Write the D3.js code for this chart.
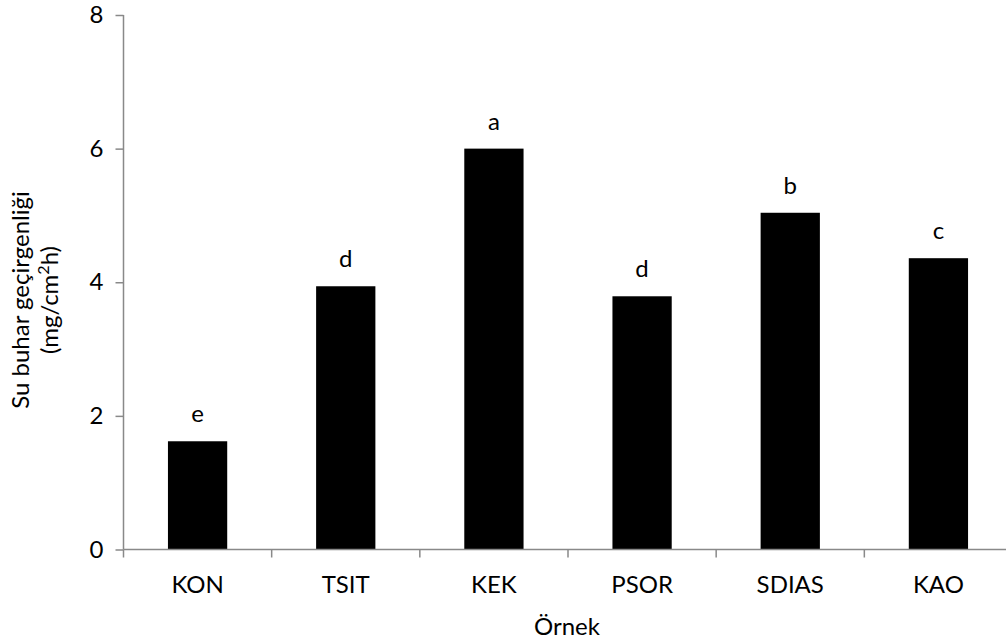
<!DOCTYPE html>
<html>
<head>
<meta charset="utf-8">
<script src="https://cdn.jsdelivr.net/npm/d3@7/dist/d3.min.js"></script>
<style>
  html, body { margin: 0; padding: 0; background: #fff; }
  svg { display: block; }
  text { font-family: Lato, "Open Sans", sans-serif; fill: #000; }
</style>
</head>
<body>
<svg id="chart" width="1006" height="644"></svg>
<script>
// Water vapour permeability per sample, with significance letters
const categories = ["KON", "TSIT", "KEK", "PSOR", "SDIAS", "KAO"];
const values = [1.62, 3.94, 6.0, 3.79, 5.04, 4.36];
const letters = ["e", "d", "a", "d", "b", "c"];
const yTicks = [0, 2, 4, 6, 8];

const svg = d3.select("#chart");
const plotLeft = 123.5, plotRight = 1012.5, plotTop = 15, plotBottom = 549.5;
const axisColor = "#898989";
const fontSize = 24;

const x = d3.scaleBand()
  .domain(categories)
  .range([plotLeft, plotRight])
  .paddingInner(0.6)
  .paddingOuter(0.3);

const y = d3.scaleLinear().domain([0, 8]).range([plotBottom, plotTop]);

// Bars
svg.append("g").selectAll("rect")
  .data(categories)
  .join("rect")
  .attr("x", d => x(d))
  .attr("width", x.bandwidth())
  .attr("y", (d, i) => y(values[i]))
  .attr("height", (d, i) => y(0) - y(values[i]))
  .attr("fill", "#000");

// Significance letters above bars
svg.append("g").selectAll("text")
  .data(categories)
  .join("text")
  .attr("x", d => x(d) + x.bandwidth() / 2)
  .attr("y", (d, i) => y(values[i]) - 19)
  .attr("text-anchor", "middle")
  .attr("font-size", fontSize)
  .text((d, i) => letters[i]);

// Y axis
const yAxis = svg.append("g").attr("transform", `translate(${plotLeft},0)`)
  .call(d3.axisLeft(y).tickValues(yTicks).tickSize(8).tickPadding(12).tickFormat(d3.format("d")));
yAxis.select(".domain").attr("stroke", axisColor).attr("stroke-width", 1.5)
  .attr("d", `M0,${plotTop}V${plotBottom}`);
yAxis.selectAll(".tick line").attr("stroke", axisColor).attr("stroke-width", 1.5);
yAxis.selectAll(".tick text").attr("font-size", fontSize).attr("font-family", "Lato, sans-serif").attr("fill", "#000");

// X axis line with ticks at category boundaries
const xg = svg.append("g");
xg.append("line")
  .attr("x1", plotLeft).attr("x2", plotRight)
  .attr("y1", plotBottom).attr("y2", plotBottom)
  .attr("stroke", axisColor).attr("stroke-width", 1.5);
xg.selectAll("line.tick")
  .data(d3.range(categories.length + 1))
  .join("line")
  .attr("class", "tick")
  .attr("x1", i => plotLeft + i * x.step())
  .attr("x2", i => plotLeft + i * x.step())
  .attr("y1", plotBottom).attr("y2", plotBottom + 8)
  .attr("stroke", axisColor).attr("stroke-width", 1.5);
xg.selectAll("text")
  .data(categories)
  .join("text")
  .attr("x", d => x(d) + x.bandwidth() / 2)
  .attr("y", 593)
  .attr("text-anchor", "middle")
  .attr("font-size", fontSize)
  .text(d => d);

// Axis titles
svg.append("text")
  .attr("x", (plotLeft + plotRight) / 2 - 1)
  .attr("y", 635)
  .attr("text-anchor", "middle")
  .attr("font-size", fontSize)
  .text("Örnek");

const yTitle = svg.append("text")
  .attr("transform", "translate(0,300) rotate(-90)")
  .attr("text-anchor", "middle")
  .attr("font-size", fontSize);
yTitle.append("tspan").attr("x", 0).attr("y", 29).text("Su buhar geçirgenliği");
const l2 = yTitle.append("tspan").attr("x", 0).attr("y", 58);
l2.append("tspan").text("(mg/cm");
l2.append("tspan").attr("font-size", 16).attr("dy", -9).text("2");
l2.append("tspan").attr("dy", 9).text("h)");
</script>
</body>
</html>
